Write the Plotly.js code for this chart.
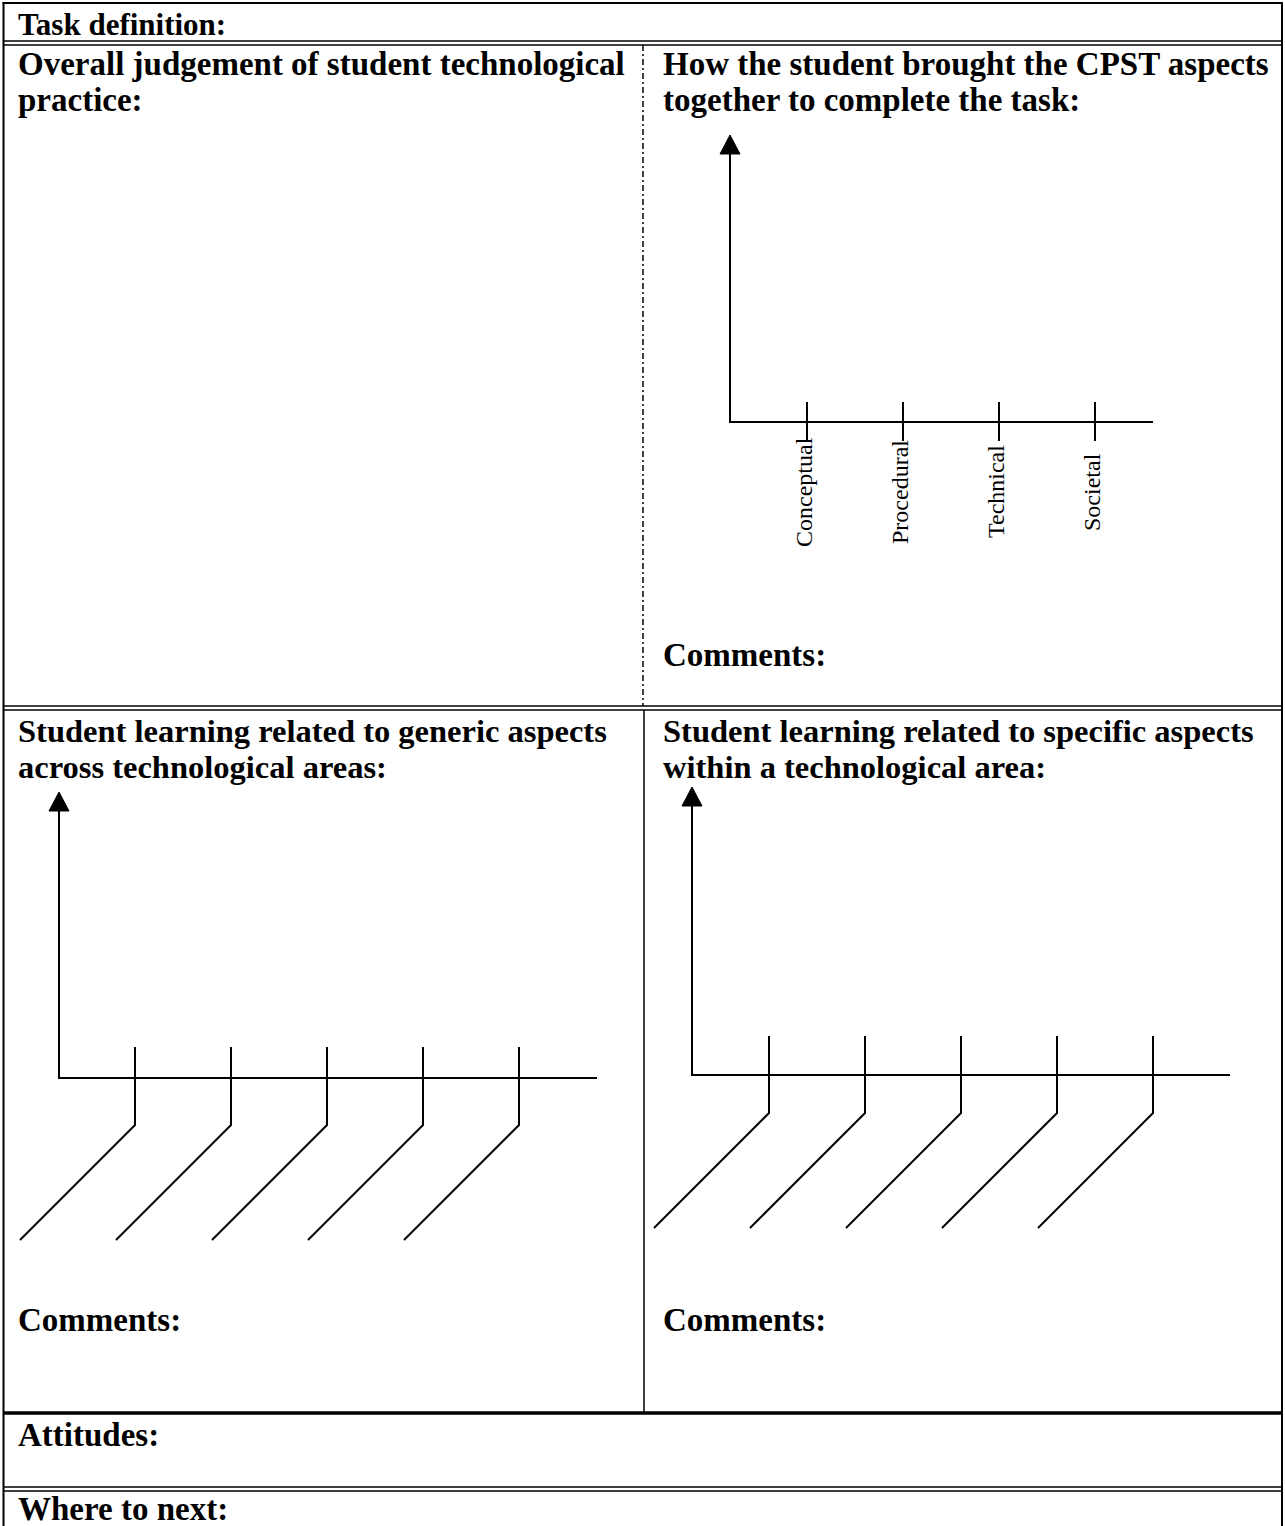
<!DOCTYPE html>
<html><head><meta charset="utf-8">
<script src="https://cdn.plot.ly/plotly-3.0.1.min.js"></script>
<style>html,body{margin:0;padding:0;background:#fff;overflow:hidden;} #chart{width:1285px;height:1526px;}</style>
</head><body><div id="chart"></div>
<script>
// ---------- DATA ----------
const taskHeading = 'Task definition:';
const overallHeading = ['Overall judgement of student technological', 'practice:'];
const cpstHeading = ['How the student brought the CPST aspects', 'together to complete the task:'];
const genericHeading = ['Student learning related to generic aspects', 'across technological areas:'];
const specificHeading = ['Student learning related to specific aspects', 'within a technological area:'];
const commentsLabel = 'Comments:';
const attitudesHeading = 'Attitudes:';
const nextHeading = 'Where to next:';
const cpstAspects = ['Conceptual', 'Procedural', 'Technical', 'Societal'];
const genericBranches = ['', '', '', '', ''];
const specificBranches = ['', '', '', '', ''];

// ---------- LAYOUT GEOMETRY (pixel space of the page) ----------
const W = 1285, H = 1526;
const FONT = '"Liberation Serif", "Times New Roman", Times, serif';
const HS = 33; // heading size

const headings = [
  {t: taskHeading, x: 16, y: 24, s: 31},
  {t: overallHeading[0], x: 16, y: 64},
  {t: overallHeading[1], x: 16, y: 100},
  {t: cpstHeading[0], x: 661, y: 64},
  {t: cpstHeading[1], x: 661, y: 100},
  {t: commentsLabel, x: 661, y: 655},
  {t: genericHeading[0], x: 16, y: 731, s: 32.5},
  {t: genericHeading[1], x: 16, y: 767, s: 32.5},
  {t: specificHeading[0], x: 661, y: 731, s: 32.5},
  {t: specificHeading[1], x: 661, y: 767, s: 32.5},
  {t: commentsLabel, x: 16, y: 1320},
  {t: commentsLabel, x: 661, y: 1320},
  {t: attitudesHeading, x: 16, y: 1435},
  {t: nextHeading, x: 16, y: 1509}
];

const cpstGeo = {ox: 730, oy: 422, top: 135, right: 1153, first: 807, step: 96, up: 20, down: 19, labelY: 492};
const genGeo = {ox: 59, oy: 1078, top: 792, right: 597, first: 135, step: 96, up: 31, down: 47, diag: 115};
const specGeo = {ox: 692, oy: 1075, top: 787, right: 1230, first: 769, step: 96, up: 39, down: 38, diag: 115};
const ARROW_H = 19, ARROW_HALF = 10, LW = 2;

const traces = [];
function axesTrace(g) {
  traces.push({x: [g.ox, g.ox, g.right], y: [g.top + ARROW_H - 1, g.oy, g.oy], mode: 'lines',
    line: {color: '#000', width: LW}, hoverinfo: 'skip', showlegend: false});
  traces.push({x: [g.ox - ARROW_HALF, g.ox, g.ox + ARROW_HALF, g.ox - ARROW_HALF],
    y: [g.top + ARROW_H, g.top, g.top + ARROW_H, g.top + ARROW_H], mode: 'lines', fill: 'toself',
    fillcolor: '#000', line: {color: '#000', width: 1}, hoverinfo: 'skip', showlegend: false});
}
// CPST diagram
axesTrace(cpstGeo);
(function () {
  const xs = [], ys = [];
  cpstAspects.forEach((c, i) => {
    const x = cpstGeo.first + i * cpstGeo.step;
    xs.push(x, x, null); ys.push(cpstGeo.oy - cpstGeo.up, cpstGeo.oy + cpstGeo.down, null);
  });
  traces.push({x: xs, y: ys, mode: 'lines', line: {color: '#000', width: LW}, hoverinfo: 'skip', showlegend: false});
})();
// Branch diagrams
function branchTrace(g, list) {
  axesTrace(g);
  const xs = [], ys = [];
  list.forEach((c, i) => {
    const x = g.first + i * g.step;
    xs.push(x, x, x - g.diag, null);
    ys.push(g.oy - g.up, g.oy + g.down, g.oy + g.down + g.diag, null);
  });
  traces.push({x: xs, y: ys, mode: 'lines', line: {color: '#000', width: LW}, hoverinfo: 'skip', showlegend: false});
}
branchTrace(genGeo, genericBranches);
branchTrace(specGeo, specificBranches);

const annotations = headings.map(h => ({
  x: h.x, y: h.y, xref: 'x', yref: 'y', xanchor: 'left', yanchor: 'middle', showarrow: false,
  text: '<b>' + h.t + '</b>', font: {family: FONT, size: h.s || HS, color: '#000'}
}));
cpstAspects.forEach((c, i) => {
  annotations.push({x: cpstGeo.first + i * cpstGeo.step - 3, y: cpstGeo.labelY, xref: 'x', yref: 'y',
    xanchor: 'center', yanchor: 'middle', showarrow: false, textangle: -90, text: c,
    font: {family: FONT, size: 24, color: '#000'}});
});

function hline(y, x0, x1, w, dash) {
  return {type: 'line', xref: 'x', yref: 'y', x0: x0, x1: x1, y0: y, y1: y, line: {color: '#000', width: w, dash: dash || 'solid'}};
}
function vline(x, y0, y1, w, dash) {
  return {type: 'line', xref: 'x', yref: 'y', x0: x, x1: x, y0: y0, y1: y1, line: {color: '#000', width: w, dash: dash || 'solid'}};
}
const L = 3.5, R = 1282;
const shapes = [
  vline(L, 2, H + 5, 2), vline(R, 2, H + 5, 2), hline(3, L - 1, R + 1, 2),
  hline(41, L, R, 1.5), hline(45, L, R, 1.5),
  vline(643, 45, 706, 1.5, '6px,3px,2px,3px'),
  hline(706, L, R, 1.5), hline(710, L, R, 1.5),
  vline(644, 710, 1412, 1.5),
  hline(1413, L, R, 3.5),
  hline(1487, L, R, 1.5), hline(1491, L, R, 1.5)
];

const layout = {
  width: W, height: H, margin: {l: 0, r: 0, t: 0, b: 0}, paper_bgcolor: '#fff', plot_bgcolor: '#fff',
  xaxis: {range: [0, W], visible: false, fixedrange: true},
  yaxis: {range: [H, 0], visible: false, fixedrange: true},
  shapes: shapes, annotations: annotations, showlegend: false
};
Plotly.newPlot('chart', traces, layout, {displayModeBar: false, staticPlot: true});
</script></body></html>
